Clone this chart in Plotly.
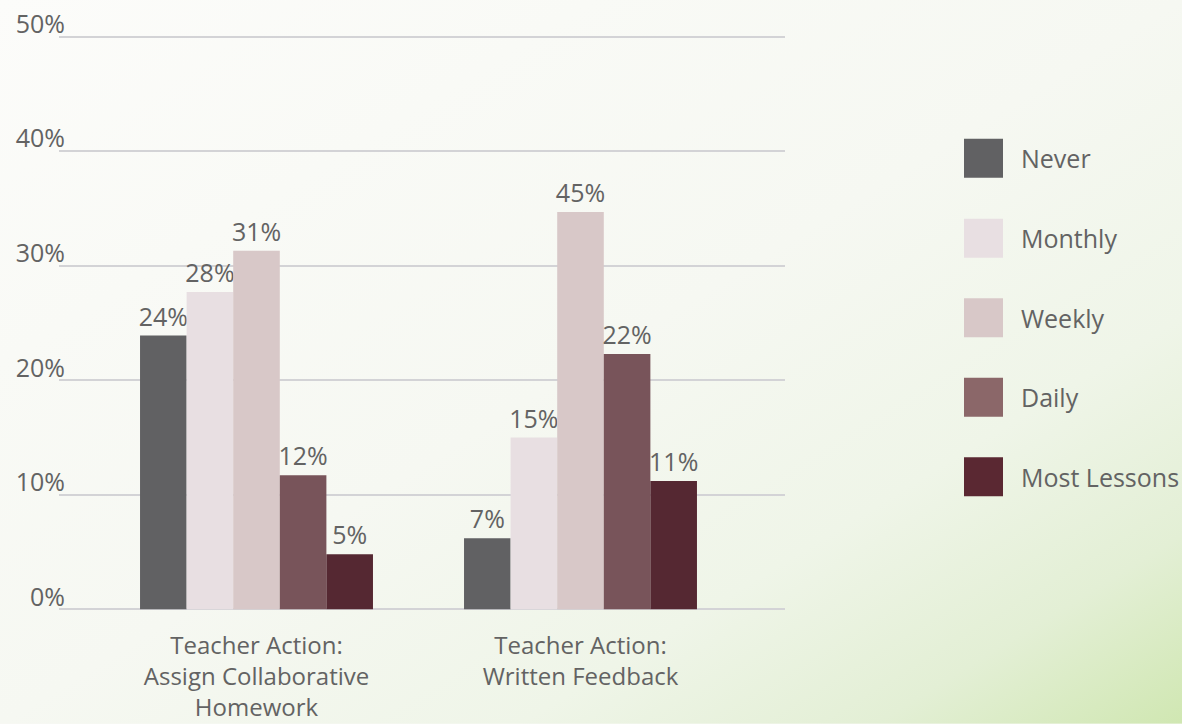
import base64
import plotly.graph_objects as go

# ---------------- data ----------------
categories = [
    "Teacher Action:<br>Assign Collaborative<br>Homework",
    "Teacher Action:<br>Written Feedback",
]
series_names = ["Never", "Monthly", "Weekly", "Daily", "Most Lessons"]
# bar heights as drawn in the picture (percent)
never_vals = [23.9, 6.2]
monthly_vals = [27.7, 15.0]
weekly_vals = [31.3, 34.7]
daily_vals = [11.7, 22.3]
most_vals = [4.8, 11.2]
# labels printed above the bars
never_labels = ["24%", "7%"]
monthly_labels = ["28%", "15%"]
weekly_labels = ["31%", "45%"]
daily_labels = ["12%", "22%"]
most_labels = ["5%", "11%"]
y_tickvals = [0, 10, 20, 30, 40, 50]
y_ticktext = ["0%", "10%", "20%", "30%", "40%", "50%"]

# ---------------- style ----------------
colors = ["#616163", "#e8dfe2", "#d8c8c8", "#78545a", "#552832"]
legend_colors = ["#616163", "#e8dfe2", "#d8c8c8", "#8b6769", "#5a2832"]
FONT = "Open Sans"
FS = 25
TXT = "#636363"
W, H = 1182, 724
Y0_PX, Y50_PX = 609.5, 37.0          # pixel rows of 0% and 50%
PPU = (Y0_PX - Y50_PX) / 50.0
EXT = 0.15                            # small range padding so edge gridlines show
L, R = 59, 397
T = Y50_PX - EXT * PPU
B = H - (Y0_PX + EXT * PPU)

values = [never_vals, monthly_vals, weekly_vals, daily_vals, most_vals]
labels = [never_labels, monthly_labels, weekly_labels, daily_labels, most_labels]

fig = go.Figure()
for name, vals, labs, col in zip(series_names, values, labels, colors):
    fig.add_trace(go.Bar(
        x=categories, y=vals, name=name, text=labs,
        textposition="outside", texttemplate="%{text}",
        textfont=dict(family=FONT, size=FS, color=TXT),
        marker=dict(color=col, line=dict(width=0)),
        cliponaxis=False, constraintext="none", showlegend=False,
        hoverinfo="skip",
    ))

# background gradient image
svg = (
    '<svg xmlns="http://www.w3.org/2000/svg" width="1182" height="724" preserveAspectRatio="none">'
    '<defs><linearGradient id="g" x1="0" y1="0" x2="1" y2="1">'
    '<stop offset="0" stop-color="#fcfcfa"/>'
    '<stop offset="0.5" stop-color="#f6f8f2"/>'
    '<stop offset="0.72" stop-color="#eff5e8"/>'
    '<stop offset="0.87" stop-color="#e3efd5"/>'
    '<stop offset="1" stop-color="#d0e7b2"/>'
    '</linearGradient></defs>'
    '<rect width="1182" height="724" fill="url(#g)"/></svg>'
)
src = "data:image/svg+xml;base64," + base64.b64encode(svg.encode()).decode()
pw, ph = W - L - R, H - T - B


def px_x(x):
    return (x - L) / pw


def px_y(y):
    return 1 - (y - T) / ph


fig.add_layout_image(dict(
    source=src, xref="paper", yref="paper",
    x=px_x(0), y=px_y(0), sizex=W / pw, sizey=H / ph,
    xanchor="left", yanchor="top", sizing="stretch", layer="below",
))

# custom legend
legend_y = [158.5, 238.5, 318, 397.5, 477]
for name, col, yc in zip(series_names, legend_colors, legend_y):
    fig.add_shape(type="rect", xref="paper", yref="paper",
                  x0=px_x(964), x1=px_x(1003), y0=px_y(yc - 19.5), y1=px_y(yc + 19.5),
                  fillcolor=col, line=dict(width=0))
    fig.add_annotation(text=name, xref="paper", yref="paper",
                       x=px_x(1019), y=px_y(yc), xanchor="left", yanchor="middle",
                       showarrow=False, font=dict(family=FONT, size=FS, color=TXT))

fig.update_layout(
    width=W, height=H,
    margin=dict(l=L, r=R, t=T, b=B, pad=0, autoexpand=False),
    paper_bgcolor="#f8f9f5", plot_bgcolor="rgba(0,0,0,0)",
    barmode="group", bargap=0.281, bargroupgap=0,
    font=dict(family=FONT, size=FS, color=TXT),
    showlegend=False,
)
fig.update_xaxes(range=[-0.6096, 1.6312], showgrid=False, zeroline=False,
                 showline=False, ticks="", ticklabelstandoff=18, automargin=False,
                 tickfont=dict(family=FONT, size=24, color=TXT))
fig.update_yaxes(range=[-EXT, 50 + EXT], tickvals=y_tickvals, ticktext=y_ticktext,
                 showgrid=True, gridcolor="#d3d3d6", gridwidth=2,
                 zeroline=False, showline=False, ticks="", automargin=False,
                 ticklabelposition="outside top", ticklabelstandoff=-7,
                 ticklabelshift=5, ticklabeloverflow="allow",
                 tickfont=dict(family=FONT, size=FS, color=TXT))

fig.write_html("out.html", config={"displayModeBar": False},
               post_script="document.body.style.margin='0';document.body.style.padding='0';")
